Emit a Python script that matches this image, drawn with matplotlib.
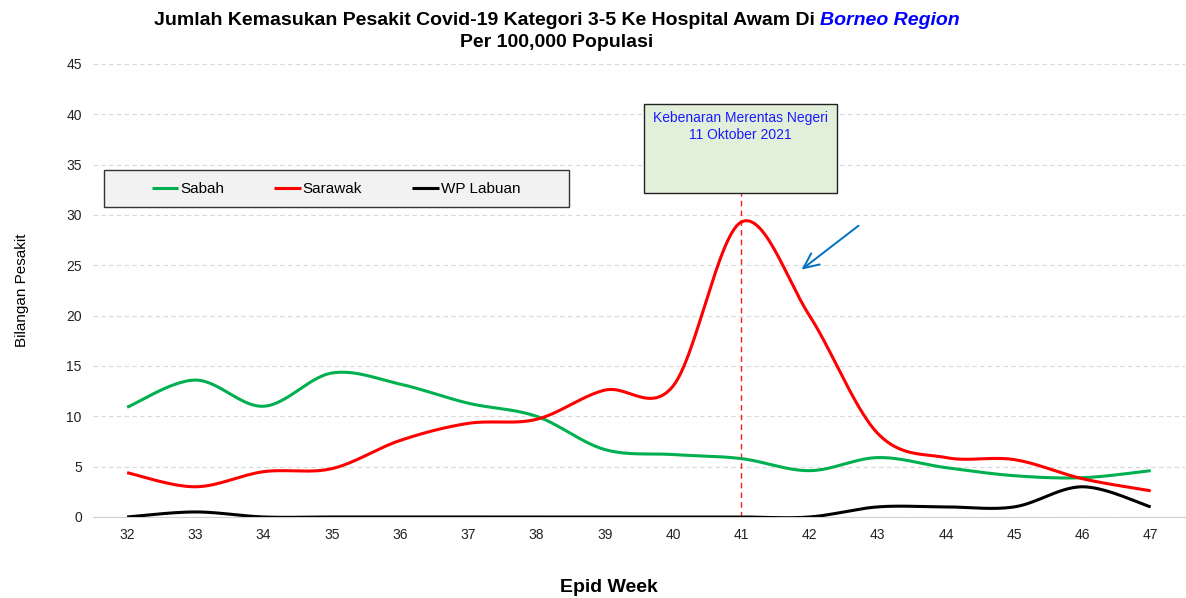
import numpy as np
import matplotlib
matplotlib.use('Agg')
import matplotlib.pyplot as plt
from matplotlib.patches import Rectangle

plt.rcParams['font.family'] = ['Liberation Sans', 'DejaVu Sans']

# data
weeks = [32, 33, 34, 35, 36, 37, 38, 39, 40, 41, 42, 43, 44, 45, 46, 47]
sabah = [10.9, 13.6, 11.0, 14.3, 13.2, 11.3, 10.0, 6.7, 6.2, 5.8, 4.6, 5.9, 4.9, 4.1, 3.9, 4.6]
sarawak = [4.4, 3.0, 4.5, 4.8, 7.6, 9.3, 9.7, 12.6, 13.0, 29.3, 20.0, 8.3, 5.9, 5.7, 3.8, 2.6]
labuan = [0.0, 0.5, 0.0, 0.0, 0.0, 0.0, 0.0, 0.0, 0.0, 0.0, 0.0, 1.0, 1.0, 1.0, 3.0, 1.0]
yticks = [0, 5, 10, 15, 20, 25, 30, 35, 40, 45]
marker_week = 41


def smooth(x, y, n=30):
    # cubic bezier through the points (excel style smoothed line)
    x = np.asarray(x, float)
    y = np.asarray(y, float)
    px = np.concatenate([[x[0]], x, [x[-1]]])
    py = np.concatenate([[y[0]], y, [y[-1]]])
    xs, ys = [], []
    t = np.linspace(0, 1, n)
    for i in range(1, len(px) - 2):
        p0 = np.array([px[i], py[i]])
        p3 = np.array([px[i + 1], py[i + 1]])
        p1 = p0 + (np.array([px[i + 1], py[i + 1]]) - np.array([px[i - 1], py[i - 1]])) / 6
        p2 = p3 - (np.array([px[i + 2], py[i + 2]]) - np.array([px[i], py[i]])) / 6
        pts = ((1 - t) ** 3)[:, None] * p0 + (3 * (1 - t) ** 2 * t)[:, None] * p1 \
            + (3 * (1 - t) * t ** 2)[:, None] * p2 + (t ** 3)[:, None] * p3
        xs.extend(pts[:, 0])
        ys.extend(pts[:, 1])
    return xs, ys


fig = plt.figure(figsize=(11.86, 5.98), dpi=100)
ax = fig.add_axes([0.0784, 0.1355, 0.9206, 0.7575])

for vals, col, name in [(sabah, '#00b050', 'Sabah'), (sarawak, '#ff0000', 'Sarawak'),
                        (labuan, '#000000', 'WP Labuan')]:
    sx, sy = smooth(weeks, vals)
    ax.plot(sx, sy, color=col, lw=2.2, label=name, solid_capstyle='butt', zorder=3)

ax.set_xlim(31.5, 47.5)
ax.set_ylim(0, 45)
ax.set_xticks(weeks)
ax.set_yticks(yticks)
ax.tick_params(length=0, labelsize=10, colors='#222222', pad=8)
for s in ['top', 'right', 'left']:
    ax.spines[s].set_visible(False)
ax.spines['bottom'].set_color('#d0d0d0')
ax.grid(axis='y', color='#d9d9d9', ls=(0, (4, 3)), lw=0.8)
ax.set_axisbelow(True)

# vertical marker line
ax.plot([marker_week, marker_week], [0, 32.2], color='#ff1a1a', lw=1.0, ls=(0, (4, 3)), zorder=2)

# annotation box
ax.add_patch(Rectangle((39.57, 32.2), 2.83, 8.8, facecolor='#e2efda', edgecolor='#222222',
                       lw=1.0, zorder=4, clip_on=False))
ax.text(40.99, 40.35, 'Kebenaran Merentas Negeri\n11 Oktober 2021', color='#1a1aff',
        ha='center', va='top', fontsize=10, zorder=5, linespacing=1.3)

# arrow
ax.annotate('', xy=(41.85, 24.4), xytext=(42.75, 29.1),
            arrowprops=dict(arrowstyle='->,head_length=1.1,head_width=0.5', color='#0070c0', lw=1.4))

# legend box
ax.add_patch(Rectangle((31.66, 30.8), 6.82, 3.66, facecolor='#f2f2f2', edgecolor='#333333',
                       lw=1.0, zorder=4))
leg = ax.legend(loc='upper left', bbox_to_anchor=(0.0412, 0.77), ncol=3, frameon=False,
                fontsize=11, handlelength=1.75, handletextpad=0.1, columnspacing=3.3)
leg.set_zorder(6)

ax.set_ylabel('Bilangan Pesakit', fontsize=11, labelpad=27)
fig.text(0.5135, 0.017, 'Epid Week', fontsize=14, fontweight='bold', ha='center', va='center')

# title with blue italic part
fig.canvas.draw()
r = fig.canvas.get_renderer()
t1 = fig.text(0, 0.966, 'Jumlah Kemasukan Pesakit Covid-19 Kategori 3-5 Ke Hospital Awam Di ',
              fontsize=14, fontweight='bold', va='center')
t2 = fig.text(0, 0.966, 'Borneo Region', fontsize=14, fontweight='bold', style='italic',
              color='#0000ff', va='center')
w1 = t1.get_window_extent(r).width / fig.bbox.width
w2 = t2.get_window_extent(r).width / fig.bbox.width
x0 = 0.4697 - (w1 + w2) / 2
t1.set_x(x0)
t2.set_x(x0 + w1)
fig.text(0.4697, 0.929, 'Per 100,000 Populasi', fontsize=14, fontweight='bold',
         ha='center', va='center')

fig.savefig('out.png', dpi=100)
